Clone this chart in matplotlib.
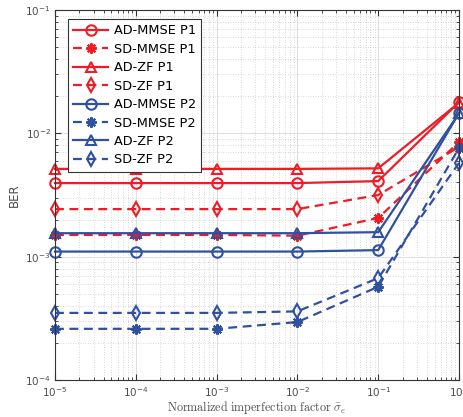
import numpy as np
import matplotlib
matplotlib.use('Agg')
import matplotlib.pyplot as plt
from matplotlib.ticker import LogLocator, NullFormatter

# imperfection factor values (x axis)
sigma = [1e-5, 1e-4, 1e-3, 1e-2, 1e-1, 1e0]

# BER
ad_mmse_p1 = [3.95e-3, 3.95e-3, 3.95e-3, 3.95e-3, 4.1e-3, 1.79e-2]
sd_mmse_p1 = [1.5e-3, 1.5e-3, 1.5e-3, 1.48e-3, 2.06e-3, 8.5e-3]
ad_zf_p1 = [5.15e-3, 5.15e-3, 5.15e-3, 5.15e-3, 5.2e-3, 1.77e-2]
sd_zf_p1 = [2.43e-3, 2.43e-3, 2.43e-3, 2.43e-3, 3.16e-3, 7.75e-3]
ad_mmse_p2 = [1.1e-3, 1.1e-3, 1.1e-3, 1.1e-3, 1.13e-3, 1.46e-2]
sd_mmse_p2 = [2.6e-4, 2.6e-4, 2.6e-4, 2.95e-4, 5.7e-4, 7.6e-3]
ad_zf_p2 = [1.55e-3, 1.55e-3, 1.55e-3, 1.55e-3, 1.58e-3, 1.45e-2]
sd_zf_p2 = [3.5e-4, 3.5e-4, 3.5e-4, 3.6e-4, 6.7e-4, 5.75e-3]

labels = ['AD-MMSE P1', 'SD-MMSE P1', 'AD-ZF P1', 'SD-ZF P1',
          'AD-MMSE P2', 'SD-MMSE P2', 'AD-ZF P2', 'SD-ZF P2']

red = '#ee1c25'
blue = '#3050a0'
star = (8, 2, 0)

series = [
    (ad_mmse_p1, red, '-', 'o'),
    (sd_mmse_p1, red, '--', star),
    (ad_zf_p1, red, '-', '^'),
    (sd_zf_p1, red, '--', 'd'),
    (ad_mmse_p2, blue, '-', 'o'),
    (sd_mmse_p2, blue, '--', star),
    (ad_zf_p2, blue, '-', '^'),
    (sd_zf_p2, blue, '--', 'd'),
]

plt.rcParams['mathtext.fontset'] = 'cm'

fig = plt.figure(figsize=(4.63, 4.17), dpi=100)
ax = fig.add_axes([55 / 463, 1 - 380 / 417, 404 / 463, 370 / 417])

for (vals, col, ls, mk), lab in zip(series, labels):
    ax.plot(sigma, vals, color=col, linestyle=ls, marker=mk, markersize=7.5,
            markerfacecolor='none', markeredgewidth=1.5, linewidth=1.6,
            label=lab, clip_on=False, dashes=(4, 2.5) if ls == '--' else (None, None))

ax.set_xscale('log')
ax.set_yscale('log')
ax.set_xlim(1e-5, 1)
ax.set_ylim(1e-4, 1e-1)

ax.xaxis.set_major_locator(LogLocator(base=10, numticks=10))
ax.xaxis.set_minor_locator(LogLocator(base=10, subs=np.arange(2, 10), numticks=50))
ax.yaxis.set_minor_locator(LogLocator(base=10, subs=np.arange(2, 10), numticks=50))
ax.xaxis.set_minor_formatter(NullFormatter())
ax.yaxis.set_minor_formatter(NullFormatter())

ax.grid(True, which='major', color='#dedede', linewidth=0.7)
ax.grid(True, which='minor', color='#cccccc', linestyle=(0, (1, 2)), linewidth=0.6)
ax.set_axisbelow(True)

ax.tick_params(which='both', direction='in', top=True, right=True,
               colors='#333333', labelcolor='#4d4d4d', labelsize=7.5)
ax.tick_params(axis='x', pad=4)
ax.tick_params(axis='y', pad=3)
ax.tick_params(which='major', length=4)
ax.tick_params(which='minor', length=2)
for sp in ax.spines.values():
    sp.set_color('#333333')
    sp.set_linewidth(0.8)

ax.set_ylabel('BER', fontsize=8.5, color='#4d4d4d', labelpad=3)
ax.set_xlabel(r'$\mathrm{Normalized\ imperfection\ factor}\ \bar{\sigma}_e$',
              fontsize=8.7, color='#4d4d4d', labelpad=0)

leg = ax.legend(loc='upper left', bbox_to_anchor=(0.033, 0.975), fontsize=9.3,
                handlelength=2.7, borderpad=0.4, labelspacing=0.42,
                handletextpad=0.4, fancybox=False, framealpha=1,
                borderaxespad=0)
leg.get_frame().set_edgecolor('#333333')
leg.get_frame().set_linewidth(0.8)

fig.savefig('out.png', dpi=100)
